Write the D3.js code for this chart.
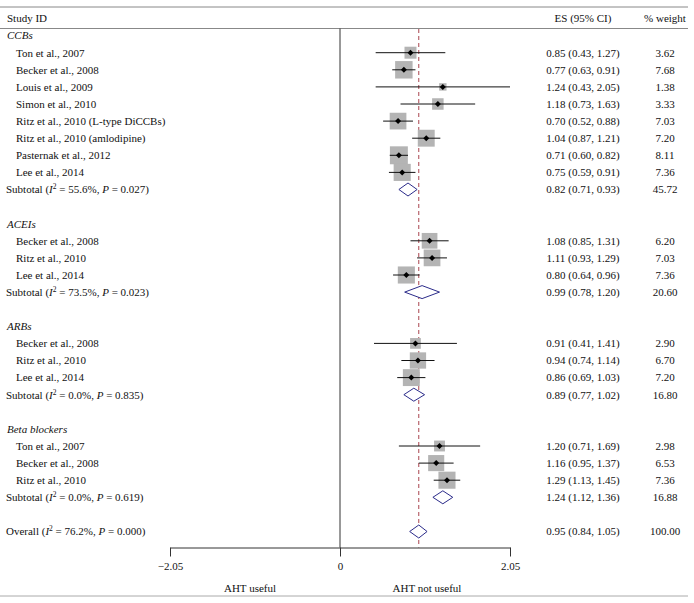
<!DOCTYPE html>
<html><head><meta charset="utf-8">
<script src="https://cdn.jsdelivr.net/npm/d3@7"></script>
<style>
body{margin:0;background:#fff;}
svg{display:block;}
text{font-family:"Liberation Serif","Times New Roman",serif;font-size:11px;fill:#111;}
</style></head>
<body>
<svg id="chart" width="694" height="603"></svg>
<script>
// ---- data ----
const groups = ["CCBs", "ACEIs", "ARBs", "Beta blockers"];
const studyNames = [
  "Ton et al., 2007", "Becker et al., 2008", "Louis et al., 2009", "Simon et al., 2010",
  "Ritz et al., 2010 (L-type DiCCBs)", "Ritz et al., 2010 (amlodipine)", "Pasternak et al., 2012", "Lee et al., 2014",
  "Becker et al., 2008", "Ritz et al., 2010", "Lee et al., 2014",
  "Becker et al., 2008", "Ritz et al., 2010", "Lee et al., 2014",
  "Ton et al., 2007", "Becker et al., 2008", "Ritz et al., 2010"
];
const studyGroup = [0,0,0,0,0,0,0,0, 1,1,1, 2,2,2, 3,3,3];
const studyES   = [0.85,0.77,1.24,1.18,0.70,1.04,0.71,0.75, 1.08,1.11,0.80, 0.91,0.94,0.86, 1.20,1.16,1.29];
const studyLow  = [0.43,0.63,0.43,0.73,0.52,0.87,0.60,0.59, 0.85,0.93,0.64, 0.41,0.74,0.69, 0.71,0.95,1.13];
const studyHigh = [1.27,0.91,2.05,1.63,0.88,1.21,0.82,0.91, 1.31,1.29,0.96, 1.41,1.14,1.03, 1.69,1.37,1.45];
const studyWeight = [3.62,7.68,1.38,3.33,7.03,7.20,8.11,7.36, 6.20,7.03,7.36, 2.90,6.70,7.20, 2.98,6.53,7.36];
const subES   = [0.82, 0.99, 0.89, 1.24];
const subLow  = [0.71, 0.78, 0.77, 1.12];
const subHigh = [0.93, 1.20, 1.02, 1.36];
const subWeight = ["45.72", "20.60", "16.80", "16.88"];
const subI2 = ["55.6%", "73.5%", "0.0%", "0.0%"];
const subP  = ["0.027", "0.023", "0.835", "0.619"];
const overall = {es: 0.95, low: 0.84, high: 1.05, weight: "100.00", i2: "76.2%", p: "0.000"};
const axisTicks = [-2.05, 0, 2.05];
const axisLabels = ["AHT useful", "AHT not useful"];

// ---- layout ----
const svg = d3.select("#chart");
const W = 694;
const x = d3.scaleLinear().domain([-2.05, 2.05]).range([170, 510]);
const nRows = 30;
const y = d3.scaleLinear().domain([0, 29]).range([35.6, 531.5]);
const fmt = v => v.toFixed(2);

// build rows
const rows = [];
let r = 0;
groups.forEach((g, gi) => {
  rows.push({type: "group", label: g, row: r++});
  studyNames.forEach((n, i) => {
    if (studyGroup[i] === gi) rows.push({type: "study", label: n, es: studyES[i], low: studyLow[i], high: studyHigh[i], w: studyWeight[i], row: r++});
  });
  rows.push({type: "sub", i2: subI2[gi], p: subP[gi], es: subES[gi], low: subLow[gi], high: subHigh[gi], w: subWeight[gi], row: r++});
  r++;
});
rows.push({type: "overall", i2: overall.i2, p: overall.p, es: overall.es, low: overall.low, high: overall.high, w: overall.weight, row: r++});

// frame lines
svg.append("line").attr("x1", 0).attr("x2", 688).attr("y1", 7).attr("y2", 7).attr("stroke", "#888").attr("stroke-width", 1);
svg.append("line").attr("x1", 0).attr("x2", 688).attr("y1", 28.5).attr("y2", 28.5).attr("stroke", "#888").attr("stroke-width", 1);
svg.append("line").attr("x1", 0).attr("x2", 688).attr("y1", 596).attr("y2", 596).attr("stroke", "#aaa").attr("stroke-width", 1);

// headers
svg.append("text").attr("x", 7).attr("y", 22).text("Study ID");
svg.append("text").attr("x", 583).attr("y", 22).attr("text-anchor", "middle").text("ES (95% CI)");
svg.append("text").attr("x", 665).attr("y", 22).attr("text-anchor", "middle").text("% weight");

const axisY = 547.5;
// vertical null line
svg.append("line").attr("x1", x(0)).attr("x2", x(0)).attr("y1", 28.5).attr("y2", axisY).attr("stroke", "#333").attr("stroke-width", 1);
// overall effect dashed line
svg.append("line").attr("x1", x(overall.es)).attr("x2", x(overall.es)).attr("y1", 29).attr("y2", axisY)
  .attr("stroke", "#a0303a").attr("stroke-width", 0.9).attr("stroke-dasharray", "4,3");

// axis
const axis = d3.axisBottom(x).tickValues(axisTicks).tickSize(9).tickSizeOuter(0)
  .tickFormat(d => d === 0 ? "0" : (d < 0 ? "\u22122.05" : "2.05"));
const ag = svg.append("g").attr("transform", `translate(0,${axisY})`).call(axis);
ag.select(".domain").attr("stroke", "#333");
ag.selectAll(".tick line").attr("stroke", "#333");
ag.selectAll(".tick text").attr("font-family", "Liberation Serif, serif").attr("font-size", 11).attr("fill", "#111").attr("dy", "0.95em");
svg.append("text").attr("x", 250).attr("y", 592).attr("text-anchor", "middle").text(axisLabels[0]);
svg.append("text").attr("x", 427).attr("y", 592).attr("text-anchor", "middle").text(axisLabels[1]);

// rows
const base = 3.8;
function statText(sel, d, prefix) {
  const t = sel.append("text").attr("x", 6).attr("y", y(d.row) + base);
  t.append("tspan").text(prefix + " (");
  t.append("tspan").attr("font-style", "italic").text("I");
  t.append("tspan").attr("font-size", 7.5).attr("dy", -4).text("2");
  t.append("tspan").attr("dy", 4).text(" = " + d.i2 + ", ");
  t.append("tspan").attr("font-style", "italic").text("P");
  t.append("tspan").text(" = " + d.p + ")");
}

rows.forEach(d => {
  const cy = y(d.row);
  if (d.type === "group") {
    svg.append("text").attr("x", 7).attr("y", cy + base).attr("font-style", "italic").text(d.label);
    return;
  }
  if (d.type === "study") {
    svg.append("text").attr("x", 16).attr("y", cy + base).text(d.label);
    const s = 6.3 * Math.sqrt(d.w);
    svg.append("rect").attr("x", x(d.es) - s / 2).attr("y", cy - s / 2).attr("width", s).attr("height", s).attr("fill", "#b4b4b4");
    svg.append("line").attr("x1", x(d.low)).attr("x2", x(d.high)).attr("y1", cy).attr("y2", cy).attr("stroke", "#111").attr("stroke-width", 1);
    const m = 3;
    svg.append("path").attr("d", `M${x(d.es) - m},${cy}L${x(d.es)},${cy - m}L${x(d.es) + m},${cy}L${x(d.es)},${cy + m}Z`).attr("fill", "#000");
    svg.append("text").attr("x", 583).attr("y", cy + base).attr("text-anchor", "middle").text(`${fmt(d.es)} (${fmt(d.low)}, ${fmt(d.high)})`);
    svg.append("text").attr("x", 665).attr("y", cy + base).attr("text-anchor", "middle").text(fmt(d.w));
    return;
  }
  statText(svg, d, d.type === "sub" ? "Subtotal" : "Overall");
  const h = 6.5;
  svg.append("path").attr("d", `M${x(d.low)},${cy}L${x(d.es)},${cy - h}L${x(d.high)},${cy}L${x(d.es)},${cy + h}Z`)
    .attr("fill", "#fff").attr("stroke", "#2b2b8a").attr("stroke-width", 1);
  svg.append("text").attr("x", 583).attr("y", cy + base).attr("text-anchor", "middle").text(`${fmt(d.es)} (${fmt(d.low)}, ${fmt(d.high)})`);
  svg.append("text").attr("x", 665).attr("y", cy + base).attr("text-anchor", "middle").text(d.w);
});
</script>
</body></html>
